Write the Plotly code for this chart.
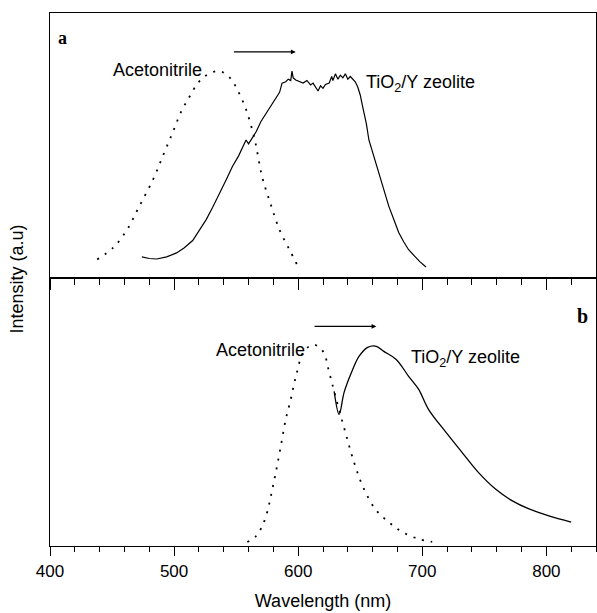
import plotly.graph_objects as go
from plotly.subplots import make_subplots

# Panel a: Acetonitrile (dotted)
a_acn_wl = [438, 451, 462, 472, 483, 491, 499, 506, 512, 520, 528, 537, 545, 551, 558, 565, 571, 578, 585, 593, 599]
a_acn_int = [0.068, 0.113, 0.18, 0.27, 0.37, 0.46, 0.55, 0.63, 0.68, 0.74, 0.77, 0.78, 0.755, 0.71, 0.635, 0.52, 0.38, 0.275, 0.18, 0.105, 0.05]

# Panel a: TiO2/Y zeolite (solid)
a_tio_wl = [474, 480, 486, 494, 502, 508, 515, 520, 526, 531, 537, 542, 547, 552, 556, 558, 560, 563, 566, 570, 574, 578, 582, 585, 587, 590, 592, 594, 595, 596, 598,
            601, 604, 607, 610, 612, 614, 616, 618, 620, 622, 625, 627, 628, 630, 632, 634, 636, 638, 640, 642, 644, 646, 648, 650, 652, 655, 657, 661, 665, 669, 673, 677, 681, 685, 689, 694, 698, 703]
a_tio_int = [0.078, 0.072, 0.07, 0.078, 0.093, 0.112, 0.14, 0.175, 0.22, 0.265, 0.32, 0.37, 0.42, 0.46, 0.5, 0.52, 0.505, 0.53, 0.55, 0.59, 0.62, 0.65, 0.68, 0.70, 0.735, 0.74, 0.75, 0.745, 0.78, 0.755, 0.747,
             0.74, 0.735, 0.745, 0.728, 0.735, 0.72, 0.705, 0.725, 0.715, 0.73, 0.735, 0.76, 0.745, 0.77, 0.75, 0.765, 0.755, 0.77, 0.75, 0.76, 0.75, 0.74, 0.72, 0.69, 0.645, 0.58, 0.52, 0.455, 0.395, 0.33, 0.27, 0.22, 0.17, 0.135, 0.105, 0.08, 0.06, 0.04]

# Panel b: Acetonitrile (dotted)
b_acn_wl = [559, 566, 571, 575, 578, 582, 586, 590, 594, 597, 599, 604, 612, 620, 625, 630, 638, 645, 652, 662, 673, 684, 697, 708]
b_acn_int = [0.015, 0.037, 0.074, 0.126, 0.186, 0.275, 0.372, 0.472, 0.546, 0.61, 0.647, 0.72, 0.75, 0.725, 0.647, 0.558, 0.424, 0.312, 0.223, 0.138, 0.089, 0.052, 0.026, 0.015]

# Panel b: TiO2/Y zeolite (solid)
b_tio_wl = [629, 633, 637, 643, 649, 656, 663, 669, 679, 689, 697, 705, 719, 732, 745, 759, 773, 786, 802, 820]
b_tio_int = [0.576, 0.49, 0.572, 0.647, 0.706, 0.74, 0.744, 0.725, 0.695, 0.632, 0.584, 0.509, 0.424, 0.349, 0.275, 0.212, 0.167, 0.138, 0.112, 0.089]

x_ticks = [400, 500, 600, 700, 800]
x_tick_labels = ["400", "500", "600", "700", "800"]
x_minor_ticks = [400, 420, 440, 460, 480, 500, 520, 540, 560, 580, 600, 620, 640, 660, 680, 700, 720, 740, 760, 780, 800, 820]

FONT = "Liberation Sans Narrow, Arial Narrow, Liberation Sans, Arial, sans-serif"
DOT = "2px,7px"

fig = make_subplots(rows=2, cols=1, shared_xaxes=False, vertical_spacing=0)

fig.add_trace(go.Scatter(x=a_acn_wl, y=a_acn_int, mode="lines", line=dict(color="black", width=1.8, dash=DOT, shape="spline"), showlegend=False), row=1, col=1)
fig.add_trace(go.Scatter(x=a_tio_wl, y=a_tio_int, mode="lines", line=dict(color="black", width=1.2), showlegend=False), row=1, col=1)
fig.add_trace(go.Scatter(x=b_acn_wl, y=b_acn_int, mode="lines", line=dict(color="black", width=1.8, dash=DOT, shape="spline"), showlegend=False), row=2, col=1)
fig.add_trace(go.Scatter(x=b_tio_wl, y=b_tio_int, mode="lines", line=dict(color="black", width=1.3, shape="spline"), showlegend=False), row=2, col=1)

split = 0.5037
fig.update_layout(
    width=597, height=613,
    margin=dict(l=50, r=1, t=13, b=67),
    plot_bgcolor="white", paper_bgcolor="white",
    font=dict(family=FONT, color="black", size=16),
    xaxis=dict(domain=[0, 1], range=[400, 840], showline=True, linecolor="black", linewidth=1.2, mirror=True,
               tickvals=x_minor_ticks,
               ticks="outside", ticklen=6, tickcolor="black", tickwidth=1.2, showticklabels=False, showgrid=False, zeroline=False),
    yaxis=dict(domain=[split, 1], range=[0, 1], showline=True, linecolor="black", linewidth=1.2, mirror=True,
               showticklabels=False, ticks="", showgrid=False, zeroline=False),
    xaxis2=dict(domain=[0, 1], range=[400, 840], showline=True, linecolor="black", linewidth=1.2, mirror=True,
                tickvals=x_ticks, ticktext=x_tick_labels, ticks="outside", ticklen=9, tickcolor="black", tickwidth=1.2,
                minor=dict(dtick=20, tick0=400, ticks="outside", ticklen=5, tickcolor="black", tickwidth=1.2),
                tickfont=dict(size=17, family=FONT), showgrid=False, zeroline=False,
                title=dict(text="Wavelength (nm)", font=dict(size=18, family=FONT), standoff=14)),
    yaxis2=dict(domain=[0, split], range=[0, 1], showline=True, linecolor="black", linewidth=1.2, mirror=True,
                showticklabels=False, ticks="", showgrid=False, zeroline=False),
)

# Longer major ticks at the top of panel b
fig.update_layout(
    xaxis3=dict(overlaying="x", anchor="y", range=[400, 840], tickvals=x_ticks, showticklabels=False,
                ticks="outside", ticklen=11, tickcolor="black", tickwidth=1.2, showgrid=False, zeroline=False, side="bottom")
)
fig.add_trace(go.Scatter(x=[None], y=[None], xaxis="x3", yaxis="y", showlegend=False))

fig.add_annotation(text="Intensity (a.u)", x=0, xref="paper", xanchor="right", xshift=-22, y=(547 - 280) / 534, yref="paper",
                   textangle=-90, showarrow=False, font=dict(size=18, family=FONT))

# panel labels
fig.add_annotation(text="<b>a</b>", x=405, y=0.905, xref="x", yref="y", xanchor="left", showarrow=False,
                   font=dict(size=18, family="Liberation Serif, Times New Roman, serif"))
fig.add_annotation(text="<b>b</b>", x=835, y=0.855, xref="x2", yref="y2", xanchor="right", showarrow=False,
                   font=dict(size=20, family="Liberation Serif, Times New Roman, serif"))

# text labels
fig.add_annotation(text="Acetonitrile", x=524, y=0.785, xref="x", yref="y", xanchor="right", yanchor="middle", showarrow=False, font=dict(size=18))
fig.add_annotation(text="TiO<sub>2</sub>/Y zeolite", x=653, y=0.735, xref="x", yref="y", xanchor="left", yanchor="middle", showarrow=False, font=dict(size=18))
fig.add_annotation(text="Acetonitrile", x=607, y=0.73, xref="x2", yref="y2", xanchor="right", yanchor="middle", showarrow=False, font=dict(size=18))
fig.add_annotation(text="TiO<sub>2</sub>/Y zeolite", x=689, y=0.7, xref="x2", yref="y2", xanchor="left", yanchor="middle", showarrow=False, font=dict(size=18))

# arrows
fig.add_annotation(x=598, y=0.853, ax=547, ay=0.853, xref="x", yref="y", axref="x", ayref="y",
                   showarrow=True, arrowhead=2, arrowsize=0.8, arrowwidth=1.2, arrowcolor="black", text="")
fig.add_annotation(x=663, y=0.818, ax=612, ay=0.818, xref="x2", yref="y2", axref="x2", ayref="y2",
                   showarrow=True, arrowhead=2, arrowsize=0.8, arrowwidth=1.2, arrowcolor="black", text="")

fig.write_html("out.html")
